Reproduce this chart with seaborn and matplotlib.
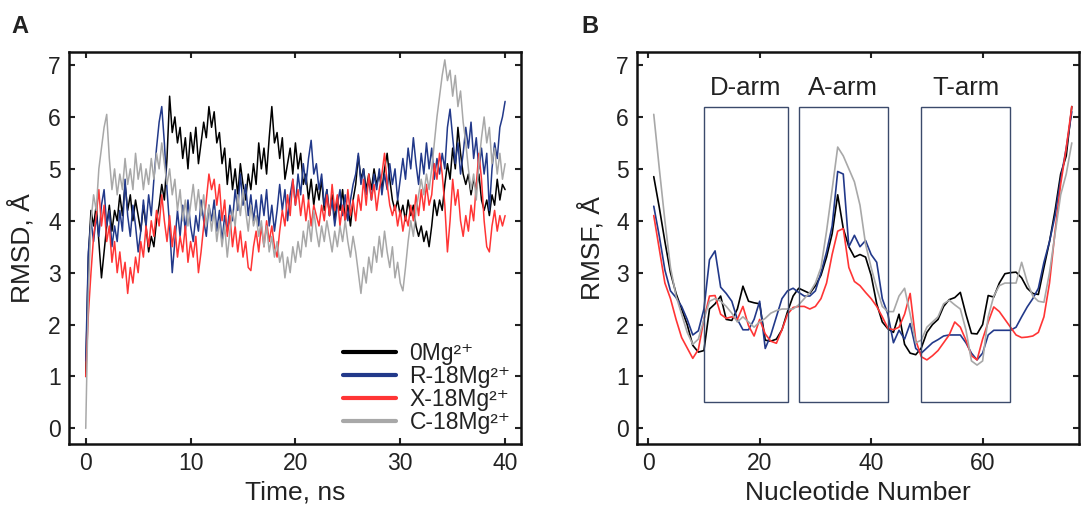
import numpy as np
import pandas as pd
import matplotlib
matplotlib.use("Agg")
import matplotlib.pyplot as plt
from matplotlib.patches import Rectangle
import seaborn as sns

# ---- panel A: RMSD vs time (values every 0.25 ns) ----
rmsd_0mg = [
    1.0, 3.3, 4.2, 3.9, 4.3, 3.6, 2.9, 3.4,
    3.9, 4.3, 3.8, 4.2, 4.0, 4.5, 4.1, 4.7,
    4.2, 4.5, 4.0, 4.4, 4.1, 3.8, 4.3, 3.9,
    3.4, 3.7, 3.5, 4.0, 4.3, 4.7, 4.4, 5.2,
    6.4, 5.7, 6.0, 5.5, 5.8, 5.2, 5.6, 5.0,
    5.7, 5.3, 5.8, 5.1, 5.5, 5.9, 5.6, 6.2,
    5.8, 6.1, 5.5, 5.7, 5.1, 5.4, 4.7, 5.2,
    4.6, 5.0, 4.5, 5.1, 4.7, 4.4, 4.9, 4.6,
    5.1, 4.7, 5.5, 5.0, 5.4, 4.9, 5.6, 6.2,
    5.5, 5.7, 5.2, 5.6, 4.8, 5.1, 5.4, 4.9,
    5.5, 5.0, 5.3, 4.7, 4.9, 4.4, 4.8, 4.3,
    4.7, 4.4, 4.8, 4.2, 4.6, 4.1, 4.5, 4.0,
    4.4, 4.2, 4.6, 4.0, 4.3, 3.9, 4.4, 4.7,
    5.25, 4.8, 5.0, 4.6, 4.9, 4.6, 5.0, 4.7,
    4.9, 4.6, 5.0, 5.3, 4.8, 4.4, 4.2, 4.4,
    4.1, 4.3, 4.0, 4.4, 4.1, 4.3, 3.9, 3.7,
    3.9, 3.6, 3.8, 3.5, 3.9, 4.4, 4.1, 4.4,
    4.2, 4.7, 5.1, 4.8, 5.4, 5.0, 5.8, 5.3,
    4.9, 4.7, 4.9, 4.5, 4.8, 4.6, 4.9, 4.4,
    4.2, 4.4, 4.1, 4.5, 4.3, 4.8, 4.4, 4.7,
    4.6,
]
rmsd_r18 = [
    1.3, 3.4, 4.0, 3.6, 4.1, 3.7, 4.3, 4.6,
    3.9, 4.2, 3.5, 3.9, 3.6, 4.2, 3.8, 4.8,
    4.1, 3.7, 4.3, 3.9, 3.4, 3.8, 4.4, 3.9,
    4.5, 4.1, 4.8, 5.4, 5.9, 6.2, 5.5, 4.6,
    3.9, 3.0, 3.6, 4.2, 3.7, 4.3, 3.8, 4.4,
    3.9, 3.6, 4.1, 3.8, 4.4, 4.0, 3.7, 4.3,
    4.0, 4.4, 3.8, 4.2, 3.6, 4.1, 3.8, 4.3,
    4.0, 4.6, 4.2, 4.9, 4.3, 4.7, 4.1, 4.5,
    4.0, 4.4, 3.9, 4.5, 4.1, 4.6, 3.9, 4.3,
    3.8, 4.2, 4.7, 4.2, 4.6, 4.0, 4.5, 4.8,
    4.3, 4.9, 4.5, 5.1, 4.7, 5.2, 5.55, 4.9,
    5.1, 4.6, 4.9, 4.3, 4.6, 4.1, 4.4, 3.9,
    4.3, 4.6, 4.1, 4.5, 4.0, 4.4, 4.7, 4.9,
    5.3, 4.7, 5.0, 4.5, 4.8, 4.4, 4.9, 4.6,
    5.0, 4.5, 4.9, 4.6, 5.1, 4.7, 5.0, 4.4,
    4.8, 5.2, 4.8, 5.4, 5.0, 5.6, 5.1, 4.7,
    5.3, 4.9, 5.5, 5.0, 5.4, 4.8, 5.2, 4.9,
    5.3, 5.0, 5.8, 6.15, 5.6, 5.1, 5.5, 4.9,
    5.3, 5.8, 5.4, 5.9, 5.2, 5.6, 5.0, 5.4,
    4.9, 5.3, 4.2, 5.0, 5.5, 5.2, 5.8, 6.0,
    6.3,
]
rmsd_x18 = [
    1.0, 2.2, 3.0, 3.7, 4.1, 4.6, 3.9, 4.3,
    3.6, 3.9, 3.2, 3.6, 3.0, 3.4, 2.9, 3.2,
    2.6, 3.1, 2.8, 3.3, 3.0, 3.6, 3.3, 3.9,
    3.5, 4.0, 3.7, 4.2, 3.9, 4.5, 4.0, 3.6,
    4.1, 3.5, 3.9, 3.3, 3.7, 3.4, 3.9, 3.2,
    3.6, 3.3, 3.7, 3.0, 3.4, 3.9, 4.4, 4.9,
    4.6, 4.8, 4.3, 4.7, 4.0, 4.4, 3.7, 4.1,
    3.5, 3.9, 3.4, 3.8, 3.3, 3.6, 3.1, 3.04,
    3.5, 3.8, 3.4, 3.9, 3.5, 4.0, 3.6, 3.9,
    3.5, 3.3, 3.8, 4.2, 3.9, 4.5, 4.1, 4.8,
    4.3, 4.6, 4.1, 4.5, 4.0, 4.4, 3.9, 4.3,
    4.1, 3.9, 4.3, 4.0, 4.5, 4.1, 4.7, 4.2,
    4.5, 3.9, 4.3, 4.0, 4.6, 4.1, 4.4, 4.0,
    4.5, 4.2, 4.8, 4.3, 4.9, 4.4, 4.7, 4.2,
    4.6, 4.9, 5.3, 4.7, 4.3, 4.1, 4.3, 3.9,
    4.2, 3.8, 4.1, 3.9, 4.3, 4.0, 4.5, 4.1,
    4.6, 4.2, 4.7, 4.3, 4.5, 5.1, 4.8, 5.3,
    4.9, 4.3, 3.4, 4.0, 4.8, 4.3, 4.6, 4.0,
    3.7, 4.1, 3.8, 4.3, 4.0, 4.7, 5.3, 4.8,
    4.0, 3.5, 3.4, 3.9, 4.2, 3.8, 4.1, 3.9,
    4.1,
]
rmsd_c18 = [
    0.0, 2.6, 4.0, 4.5, 4.2, 5.0, 5.4, 5.8,
    6.05, 5.2, 4.6, 5.0, 4.5, 4.9, 4.6, 5.2,
    4.7, 5.0, 4.6, 5.3, 4.8, 5.1, 4.6, 5.0,
    4.7, 5.2, 4.8, 5.3, 5.0, 5.5, 5.1, 4.7,
    5.0, 4.5, 4.8, 4.2, 4.6, 4.0, 4.4, 3.9,
    4.3, 4.7, 4.2, 4.6, 4.1, 4.5, 3.9, 4.3,
    3.8, 4.2, 3.6, 4.0, 3.5, 3.9, 3.3, 3.8,
    4.2, 3.9, 4.5, 4.1, 4.6, 4.2, 3.8, 4.3,
    3.9, 4.1, 3.7, 4.0, 3.5, 3.9, 3.4, 3.7,
    3.3, 3.6, 3.2, 3.4, 2.9, 3.3, 3.0, 3.5,
    3.2, 3.6, 3.3, 3.8, 3.5, 4.0, 3.6, 4.2,
    3.8, 3.5, 3.9, 3.6, 4.0, 3.7, 3.4, 3.8,
    3.5, 3.9, 3.6, 4.0, 3.6, 3.3, 3.7, 3.4,
    3.0, 2.6, 3.1, 2.8, 3.3, 3.0, 3.5, 3.2,
    3.7, 3.3, 3.8, 3.4, 3.1, 3.5, 2.9, 3.2,
    2.8, 2.65, 3.1, 3.6, 4.0, 3.7, 4.2, 4.5,
    4.8, 4.5, 4.9, 4.6, 5.0, 5.5, 6.0, 6.4,
    6.8, 7.1, 6.7, 6.9, 6.4, 6.8, 6.2, 6.5,
    5.9, 5.5, 5.0, 4.6, 4.9, 4.4, 5.1, 5.6,
    6.0, 5.5, 5.8, 5.1, 5.4, 4.9, 5.3, 4.8,
    5.1,
]

# ---- panel B: RMSF per nucleotide (1..76) ----
nucleotides = list(range(1, 77))
rmsf_0mg = [
    4.85, 4.25, 3.6, 3.0, 2.6, 2.3, 2.0, 1.6, 1.47, 1.5,
    2.3, 2.4, 2.55, 2.1, 2.08, 2.3, 2.74, 2.45, 2.42, 2.4,
    1.7, 1.68, 1.72, 1.9, 2.25, 2.55, 2.7, 2.65, 2.6, 2.75,
    2.95, 3.3, 3.75, 4.5, 3.85, 3.5, 3.3, 3.35, 3.3, 2.95,
    2.4, 2.05, 1.92, 1.85, 2.2, 1.62, 1.45, 1.42, 1.55, 1.85,
    2.0, 2.1, 2.35, 2.48, 2.52, 2.62, 2.2, 1.83, 1.82, 2.0,
    2.56, 2.53, 2.8, 2.98, 3.0, 3.01, 2.9, 2.7, 2.6, 2.58,
    3.1, 3.6, 4.2, 4.9, 5.25, 6.2,
]
rmsf_r18 = [
    4.28, 3.7, 3.05, 2.65, 2.52, 2.35, 2.1, 1.8, 1.88, 2.3,
    3.25, 3.42, 2.72, 2.6, 2.45, 2.1, 1.9, 1.9, 2.1, 2.45,
    1.54, 1.8, 2.15, 2.5, 2.65, 2.7, 2.62, 2.55, 2.55, 2.65,
    3.0, 3.4, 3.9, 4.95, 4.9, 3.5, 3.72, 3.5, 3.62, 3.35,
    3.2, 2.5, 2.2, 1.65, 1.89, 1.72, 2.02, 1.54, 1.45, 1.55,
    1.65, 1.71, 1.78, 1.8, 1.8, 1.8, 1.65, 1.45, 1.32, 1.45,
    1.8, 1.89, 1.89, 1.89, 1.89, 1.95, 2.15, 2.34, 2.5, 2.7,
    3.2, 3.6, 4.1, 4.8, 5.4, 6.1,
]
rmsf_x18 = [
    4.1, 3.45, 2.8, 2.5, 2.1, 1.75, 1.55, 1.35, 1.52, 2.1,
    2.55, 2.56, 2.2, 2.12, 2.15, 2.1, 2.35, 1.98, 1.78, 2.1,
    1.82, 1.68, 1.64, 1.9, 2.2, 2.33, 2.35, 2.35, 2.3, 2.35,
    2.5, 2.8, 3.35, 3.8, 3.85, 3.1, 2.83, 2.75, 2.62, 2.5,
    2.35, 2.15, 1.93, 1.9, 1.95, 2.2, 2.6, 1.7, 1.38, 1.32,
    1.4, 1.5, 1.65, 1.8, 2.05, 1.95, 1.7, 1.4, 1.32, 1.72,
    2.05, 2.34, 2.25, 2.1, 1.95, 1.8, 1.75, 1.76, 1.78, 1.85,
    2.15, 2.8, 3.8, 4.7, 5.4, 6.2,
]
rmsf_c18 = [
    6.05, 5.0, 4.0, 3.1, 2.55, 2.2, 1.85, 1.62, 1.72, 2.1,
    2.45, 2.5, 2.45, 2.35, 2.22, 2.05, 2.15, 2.05, 1.95, 2.05,
    2.12, 2.22, 2.27, 2.3, 2.3, 2.3, 2.38, 2.5, 2.62, 2.8,
    3.1, 3.8, 4.6, 5.42, 5.25, 5.0, 4.75, 4.3, 3.55, 3.1,
    2.7, 2.35, 2.25, 2.25, 2.55, 2.7, 2.2, 1.65, 1.7, 1.95,
    2.05, 2.15, 2.4, 2.47, 2.38, 2.3, 1.9, 1.3, 1.22, 1.3,
    2.15, 2.55, 2.75, 2.8, 2.8, 2.8, 3.2, 2.82, 2.55, 2.45,
    2.43, 3.0, 3.75, 4.5, 4.9, 5.5,
]

labels = ["0Mg²⁺", "R-18Mg²⁺", "X-18Mg²⁺", "C-18Mg²⁺"]
colors = ["#000000", "#22398a", "#ff3535", "#a8a8a8"]

arm_names = ["D-arm", "A-arm", "T-arm"]
arm_start = [10, 27, 49]
arm_end = [25, 43, 65]
arm_low, arm_high = 0.5, 6.2

# long-form tables for seaborn
rmsd_rows = []
for lab, vals in zip(labels, [rmsd_0mg, rmsd_r18, rmsd_x18, rmsd_c18]):
    t = np.linspace(0, 40, len(vals))
    rmsd_rows.append(pd.DataFrame({"time": t, "value": vals, "system": lab}))
rmsd_df = pd.concat(rmsd_rows, ignore_index=True)

rmsf_rows = []
for lab, vals in zip(labels, [rmsf_0mg, rmsf_r18, rmsf_x18, rmsf_c18]):
    rmsf_rows.append(pd.DataFrame({"nt": nucleotides, "value": vals, "system": lab}))
rmsf_df = pd.concat(rmsf_rows, ignore_index=True)

sns.set_theme(style="ticks")
plt.rcParams["font.family"] = ["Liberation Sans", "DejaVu Sans"]

fig = plt.figure(figsize=(10.81, 5.07), dpi=100)
ax1 = fig.add_axes([0.0638, 0.1243, 0.418, 0.773])
ax2 = fig.add_axes([0.5893, 0.1243, 0.4089, 0.773])

palette = dict(zip(labels, colors))
txt = "#222222"

sns.lineplot(data=rmsd_df, x="time", y="value", hue="system", palette=palette,
             hue_order=labels, estimator=None, sort=False, linewidth=1.1, ax=ax1)
sns.lineplot(data=rmsf_df, x="nt", y="value", hue="system", palette=palette,
             hue_order=labels, estimator=None, sort=False, linewidth=1.2,
             legend=False, ax=ax2)

for name, a, b in zip(arm_names, arm_start, arm_end):
    ax2.add_patch(Rectangle((a, arm_low), b - a, arm_high - arm_low, fill=False,
                            edgecolor="#3b4a6b", linewidth=1.0, zorder=5))
    ax2.text((a + b) / 2, 6.55, name, ha="center", va="center", fontsize=18.5,
             color=txt)

ax1.set_xlim(-1.6, 41.5)
ax1.set_xticks([0, 10, 20, 30, 40])
ax2.set_xlim(-2.0, 77.3)
ax2.set_xticks([0, 20, 40, 60])
for ax in (ax1, ax2):
    ax.set_ylim(-0.3, 7.25)
    ax.set_yticks(range(0, 8))
    ax.tick_params(direction="in", length=4, width=1.5, labelsize=16.5,
                   top=True, right=True, pad=6, colors=txt)
    for sp in ax.spines.values():
        sp.set_linewidth(1.8)
        sp.set_color("#111111")

ax1.set_xlabel("Time, ns", fontsize=19, color=txt)
ax1.set_ylabel("RMSD, Å", fontsize=19, color=txt)
ax2.set_xlabel("Nucleotide Number", fontsize=19, color=txt)
ax2.set_ylabel("RMSF, Å", fontsize=19, color=txt)
for ax, yx in ((ax1, -0.106), (ax2, -0.104)):
    ax.xaxis.label.set_va("center")
    ax.yaxis.label.set_va("center")
    ax.xaxis.set_label_coords(0.5, -0.125)
    ax.yaxis.set_label_coords(yx, 0.5)

leg = ax1.legend(loc="lower right", frameon=False, fontsize=16.5, handlelength=2.3,
                 handletextpad=0.6, labelspacing=0.0, borderaxespad=0.05)
for h in leg.get_lines():
    h.set_linewidth(3)
for t in leg.get_texts():
    t.set_color(txt)

fig.text(0.011, 0.935, "A", fontsize=17, fontweight="bold", color=txt)
fig.text(0.538, 0.935, "B", fontsize=17, fontweight="bold", color=txt)

fig.savefig("out.png", dpi=100)
